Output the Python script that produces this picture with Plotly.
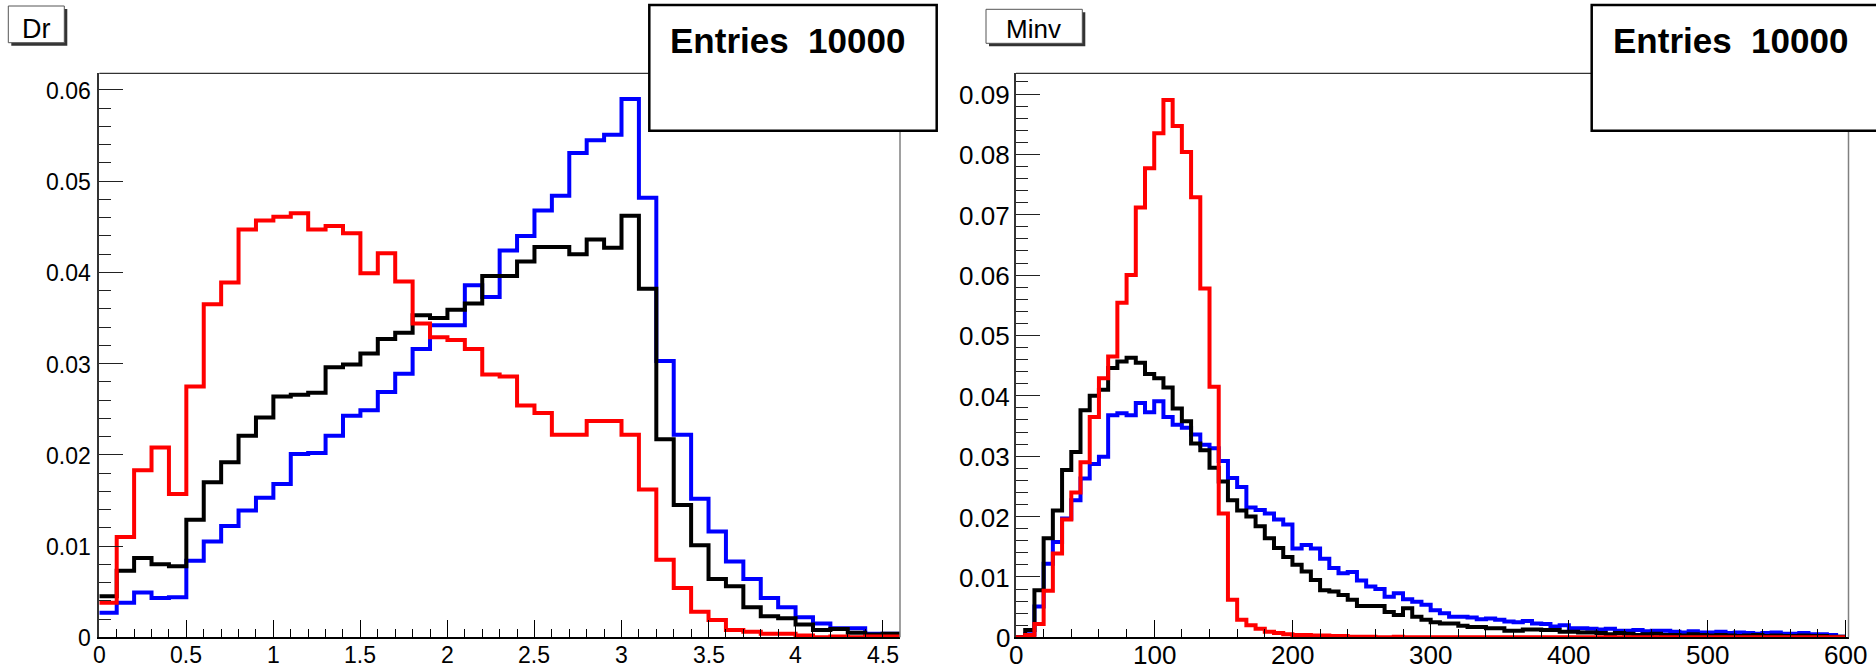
import numpy as np
import plotly.graph_objects as go

W, H = 1876, 669

# ---------------- Dr : 46 bins on [0, 4.6] ----------------
dr_lo, dr_hi = 0.0, 4.6
dr_red = [0.0038, 0.0110, 0.0183, 0.0208, 0.0157, 0.0275, 0.0365, 0.0389, 0.0447, 0.0457,
          0.0461, 0.0465, 0.0447, 0.0451, 0.0443, 0.0399, 0.0421, 0.0390, 0.0344, 0.0329,
          0.0326, 0.0316, 0.0288, 0.0286, 0.0254, 0.0246, 0.0222, 0.0222, 0.0237, 0.0237,
          0.0222, 0.0162, 0.0085, 0.0054, 0.0028, 0.0019, 0.0008, 0.0006, 0.0004, 0.0004,
          0.0002, 0.0000, 0.0001, 0.0000, 0.0001, 0.0001]
dr_blue = [0.0027, 0.0038, 0.0049, 0.0043, 0.0044, 0.0084, 0.0105, 0.0122, 0.0139, 0.0153,
           0.0168, 0.0201, 0.0202, 0.0221, 0.0243, 0.0249, 0.0269, 0.0289, 0.0316, 0.0342,
           0.0342, 0.0386, 0.0373, 0.0424, 0.0440, 0.0468, 0.0484, 0.0531, 0.0545, 0.0551,
           0.0590, 0.0482, 0.0303, 0.0222, 0.0152, 0.0116, 0.0083, 0.0064, 0.0043, 0.0033,
           0.0022, 0.0015, 0.0010, 0.0010, 0.0004, 0.0004]
dr_black = [0.0045, 0.0073, 0.0087, 0.0080, 0.0078, 0.0129, 0.0170, 0.0192, 0.0221, 0.0241,
            0.0264, 0.0266, 0.0268, 0.0296, 0.0299, 0.0311, 0.0327, 0.0334, 0.0353, 0.0350,
            0.0359, 0.0366, 0.0396, 0.0396, 0.0412, 0.0428, 0.0428, 0.0420, 0.0436, 0.0427,
            0.0462, 0.0382, 0.0217, 0.0145, 0.0101, 0.0064, 0.0056, 0.0033, 0.0023, 0.0021,
            0.0014, 0.0008, 0.0009, 0.0005, 0.0003, 0.0004]
dr_xticks = [0, 0.5, 1, 1.5, 2, 2.5, 3, 3.5, 4, 4.5]
dr_xlabels = ["0", "0.5", "1", "1.5", "2", "2.5", "3", "3.5", "4", "4.5"]
dr_yticks = [0, 0.01, 0.02, 0.03, 0.04, 0.05, 0.06]
dr_ylabels = ["0", "0.01", "0.02", "0.03", "0.04", "0.05", "0.06"]

# ---------------- Minv : 90 bins on [0, 600] ----------------
mv_lo, mv_hi = 0.0, 600.0
mv_red = [0.0, 0.0004, 0.0022, 0.0077, 0.0139, 0.0195, 0.0240, 0.0290, 0.0365, 0.0429,
          0.0465, 0.0554, 0.0600, 0.0712, 0.0777, 0.0835, 0.0890, 0.0847, 0.0804, 0.0729,
          0.0578, 0.0415, 0.0205, 0.0062, 0.0029, 0.0020, 0.0014, 0.0009, 0.0007, 0.0005,
          0.0004, 0.0004, 0.0003, 0.0003, 0.0002, 0.0002, 0.0001, 0.0001, 0.0001, 0.0,
          0.0, 0.0001, 0.0, 0.0, 0.0, 0.0, 0.0, 0.0, 0.0, 0.0,
          0.0, 0.0, 0.0, 0.0, 0.0, 0.0, 0.0, 0.0, 0.0, 0.0,
          0.0, 0.0, 0.0, 0.0, 0.0, 0.0, 0.0, 0.0, 0.0, 0.0,
          0.0, 0.0, 0.0, 0.0, 0.0, 0.0, 0.0, 0.0, 0.0, 0.0,
          0.0, 0.0, 0.0, 0.0, 0.0, 0.0, 0.0, 0.0, 0.0, 0.0]
mv_blue = [0.0, 0.0005, 0.0051, 0.0122, 0.0158, 0.0197, 0.0227, 0.0263, 0.0287, 0.0299,
           0.0368, 0.0371, 0.0368, 0.0388, 0.0373, 0.0391, 0.0365, 0.0352, 0.0347, 0.0336,
           0.0319, 0.0313, 0.0292, 0.0264, 0.0249, 0.0215, 0.0211, 0.0205, 0.0195, 0.0187,
           0.0147, 0.0153, 0.0147, 0.0130, 0.0115, 0.0106, 0.0108, 0.0094, 0.0084, 0.0080,
           0.0067, 0.0073, 0.0063, 0.0059, 0.0054, 0.0045, 0.0040, 0.0034, 0.0034, 0.0033,
           0.0030, 0.0031, 0.0029, 0.0026, 0.0025, 0.0027, 0.0023, 0.0022, 0.0018, 0.0020,
           0.0015, 0.0015, 0.0014, 0.0013, 0.0014, 0.0011, 0.0011, 0.0012, 0.0010, 0.0011,
           0.0011, 0.0009, 0.0008, 0.0010, 0.0008, 0.0008, 0.0009, 0.0007, 0.0008, 0.0007,
           0.0006, 0.0007, 0.0008, 0.0006, 0.0006, 0.0007, 0.0005, 0.0005, 0.0004, 0.0001]
mv_black = [0.0, 0.0012, 0.0078, 0.0164, 0.0210, 0.0277, 0.0307, 0.0376, 0.0400, 0.0410,
            0.0446, 0.0457, 0.0463, 0.0455, 0.0436, 0.0429, 0.0414, 0.0379, 0.0358, 0.0321,
            0.0310, 0.0281, 0.0258, 0.0227, 0.0210, 0.0200, 0.0184, 0.0164, 0.0148, 0.0133,
            0.0120, 0.0109, 0.0095, 0.0078, 0.0076, 0.0070, 0.0062, 0.0052, 0.0052, 0.0052,
            0.0042, 0.0037, 0.0048, 0.0034, 0.0029, 0.0025, 0.0023, 0.0023, 0.0019, 0.0017,
            0.0017, 0.0015, 0.0015, 0.0011, 0.0011, 0.0013, 0.0013, 0.0012, 0.0012, 0.0009,
            0.0009, 0.0008, 0.0008, 0.0007, 0.0005, 0.0007, 0.0006, 0.0004, 0.0005, 0.0006,
            0.0004, 0.0004, 0.0003, 0.0005, 0.0004, 0.0003, 0.0004, 0.0003, 0.0002, 0.0003,
            0.0004, 0.0002, 0.0003, 0.0002, 0.0002, 0.0003, 0.0002, 0.0002, 0.0001, 0.0001]
mv_xticks = [0, 100, 200, 300, 400, 500, 600]
mv_xlabels = ["0", "100", "200", "300", "400", "500", "600"]
mv_yticks = [0, 0.01, 0.02, 0.03, 0.04, 0.05, 0.06, 0.07, 0.08, 0.09]
mv_ylabels = ["0", "0.01", "0.02", "0.03", "0.04", "0.05", "0.06", "0.07", "0.08", "0.09"]

entries_text = "Entries\u00a0 10000"
FONT = "Liberation Sans"


def fx(p):
    return p / W


def fy(p):
    return 1 - p / H


def step_trace(values, lo, hi, color, xa, ya):
    edges = np.linspace(lo, hi, len(values) + 1)
    ys = list(values) + [values[-1]]
    return go.Scatter(x=edges, y=ys, mode="lines", xaxis=xa, yaxis=ya,
                      line=dict(shape="hv", color=color, width=4),
                      showlegend=False, hoverinfo="skip")


fig = go.Figure()
for vals, col in [(dr_blue, "#0000ff"), (dr_black, "#000000"), (dr_red, "#ff0000")]:
    fig.add_trace(step_trace(vals, dr_lo, dr_hi, col, "x", "y"))
for vals, col in [(mv_blue, "#0000ff"), (mv_black, "#000000"), (mv_red, "#ff0000")]:
    fig.add_trace(step_trace(vals, mv_lo, mv_hi, col, "x2", "y2"))

y_dom = [fy(637.3), fy(73.3)]
left_dom = [fx(99.3), fx(900.0)]
right_dom = [fx(1016.0), fx(1848.5)]


def xaxis(dom, rng, ticks, minor, anchor):
    return dict(domain=dom, range=rng, anchor=anchor, showgrid=False, zeroline=False,
                showline=True, linecolor="#000000", linewidth=2,
                ticks="inside", ticklen=17, tickwidth=1, tickcolor="#000000",
                tickmode="array", tickvals=ticks, showticklabels=False,
                minor=dict(ticks="inside", dtick=minor, tick0=0, ticklen=8, tickwidth=1,
                           tickcolor="#000000", showgrid=False))


def yaxis(rng, ticks, anchor):
    return dict(domain=y_dom, range=rng, anchor=anchor, showgrid=False, zeroline=False,
                showline=True, linecolor="#333333", linewidth=1.5,
                ticks="inside", ticklen=24, tickwidth=1, tickcolor="#222222",
                tickmode="array", tickvals=ticks, showticklabels=False,
                minor=dict(ticks="inside", dtick=0.002, tick0=0, ticklen=12, tickwidth=1,
                           tickcolor="#222222", showgrid=False))


shapes = []
# remaining frame edges: black top, grey right
for dom in (left_dom, right_dom):
    shapes.append(dict(type="line", xref="paper", yref="paper", x0=dom[0], x1=dom[1],
                       y0=y_dom[1], y1=y_dom[1], line=dict(color="#000000", width=1)))
    shapes.append(dict(type="line", xref="paper", yref="paper", x0=dom[1], x1=dom[1],
                       y0=y_dom[0], y1=y_dom[1], line=dict(color="#808080", width=1.5)))


def title_box(x0, y0, x1, y1):
    # drop shadow then the white label box
    shapes.append(dict(type="rect", xref="paper", yref="paper", x0=fx(x0 + 3), x1=fx(x1 + 3),
                       y0=fy(y1 + 3), y1=fy(y0 + 3), fillcolor="#333333",
                       line=dict(width=0), layer="above"))
    shapes.append(dict(type="rect", xref="paper", yref="paper", x0=fx(x0), x1=fx(x1),
                       y0=fy(y1), y1=fy(y0), fillcolor="#ffffff",
                       line=dict(color="#555555", width=1), layer="above"))


def stats_box(x0, y0, x1, y1):
    shapes.append(dict(type="rect", xref="paper", yref="paper", x0=fx(x0), x1=fx(x1),
                       y0=fy(y1), y1=fy(y0), fillcolor="#ffffff",
                       line=dict(color="#000000", width=2.5), layer="above"))


title_box(8.3, 6.0, 64.3, 42.7)
title_box(986.0, 9.3, 1082.3, 43.3)
stats_box(649.3, 5.0, 936.7, 130.7)
stats_box(1591.7, 5.0, 1900.0, 130.7)

annotations = [
    dict(text="Dr", x=fx(36.3), y=fy(28.5), xref="paper", yref="paper",
         xanchor="center", yanchor="middle", showarrow=False,
         font=dict(family=FONT, size=27, color="#000000")),
    dict(text="Minv", x=fx(1033.5), y=fy(28.5), xref="paper", yref="paper",
         xanchor="center", yanchor="middle", showarrow=False,
         font=dict(family=FONT, size=26, color="#000000")),
    dict(text="<b>" + entries_text + "</b>", x=fx(668.0), y=fy(40.5), xref="paper",
         yref="paper", xanchor="left", yanchor="middle", showarrow=False,
         font=dict(family=FONT, size=35, color="#000000")),
    dict(text="<b>" + entries_text + "</b>", x=fx(1611.3), y=fy(40.5), xref="paper",
         yref="paper", xanchor="left", yanchor="middle", showarrow=False,
         font=dict(family=FONT, size=35, color="#000000")),
]


def tick_labels(xticks, xlabels, yticks, ylabels, xref, yref, dom, size, yshift_gap):
    for v, s in zip(xticks, xlabels):
        annotations.append(dict(text=s, x=v, xref=xref, y=y_dom[0], yref="paper",
                                xanchor="center", yanchor="middle", yshift=-17.5,
                                showarrow=False,
                                font=dict(family=FONT, size=size, color="#000000")))
    for v, s in zip(yticks, ylabels):
        annotations.append(dict(text=s, x=dom[0], xref="paper", y=v, yref=yref,
                                xanchor="right", yanchor="middle", xshift=yshift_gap,
                                yshift=-1, showarrow=False,
                                font=dict(family=FONT, size=size, color="#000000")))


tick_labels(dr_xticks, dr_xlabels, dr_yticks, dr_ylabels, "x", "y", left_dom, 23, -6)
tick_labels(mv_xticks, mv_xlabels, mv_yticks, mv_ylabels, "x2", "y2", right_dom, 26, -4)

fig.update_layout(
    width=W, height=H, margin=dict(l=0, r=0, t=0, b=0),
    paper_bgcolor="#ffffff", plot_bgcolor="#ffffff",
    xaxis=xaxis(left_dom, [dr_lo, dr_hi], dr_xticks, 0.1, "y"),
    yaxis=yaxis([0, 0.06183], dr_yticks, "x"),
    xaxis2=xaxis(right_dom, [mv_lo, 602.3], mv_xticks, 20, "y2"),
    yaxis2=yaxis([0, 0.09343], mv_yticks, "x2"),
    shapes=shapes, annotations=annotations,
)

fig.write_html("out.html")
